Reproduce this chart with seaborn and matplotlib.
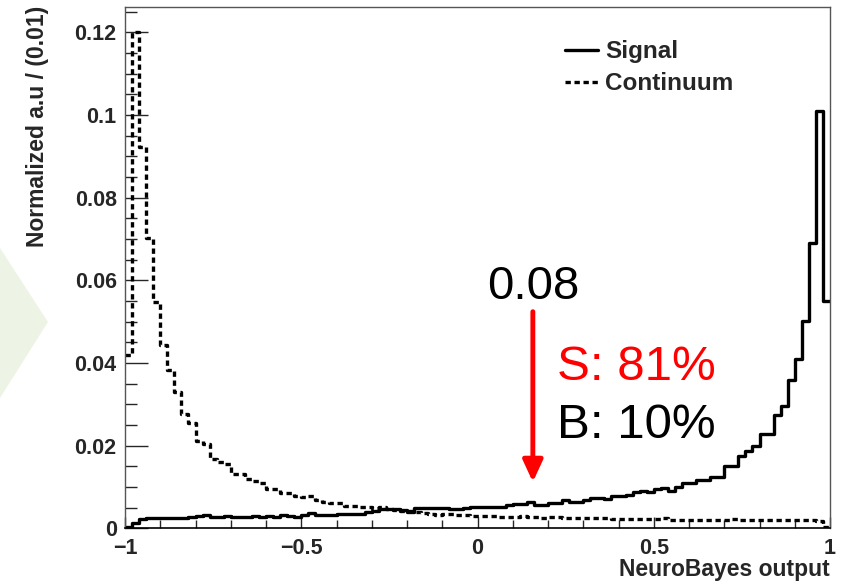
import numpy as np
import pandas as pd
import matplotlib
matplotlib.use("Agg")
import matplotlib.pyplot as plt
import seaborn as sns
from matplotlib.patches import Polygon
from matplotlib.lines import Line2D
from matplotlib.ticker import MultipleLocator

# ---------------- data (100 bins, -1 .. 1) ----------------
bin_edges = list(np.linspace(-1.0, 1.0, 101))

signal = [
    0.0004, 0.0012, 0.0023, 0.0026, 0.0024, 0.0025, 0.0025, 0.0025, 0.0026, 0.0028,
    0.0030, 0.0031, 0.0028, 0.0028, 0.0029, 0.0028, 0.0028, 0.0028, 0.0029, 0.0028,
    0.0030, 0.0028, 0.0032, 0.0029, 0.0028, 0.0032, 0.0036, 0.0032, 0.0032, 0.0032,
    0.0035, 0.0035, 0.0034, 0.0034, 0.0040, 0.0042, 0.0046, 0.0046, 0.0046, 0.0044,
    0.0040, 0.0048, 0.0048, 0.0050, 0.0050, 0.0050, 0.0047, 0.0047, 0.0050, 0.0051,
    0.0051, 0.0052, 0.0051, 0.0051, 0.0056, 0.0058, 0.0058, 0.0063, 0.0056, 0.0056,
    0.0060, 0.0060, 0.0068, 0.0063, 0.0063, 0.0068, 0.0073, 0.0073, 0.0071, 0.0079,
    0.0079, 0.0080, 0.0087, 0.0091, 0.0089, 0.0094, 0.0097, 0.0091, 0.0101, 0.0109,
    0.0109, 0.0117, 0.0117, 0.0125, 0.0125, 0.0151, 0.0151, 0.0176, 0.0187, 0.0200,
    0.0227, 0.0227, 0.0274, 0.0297, 0.0359, 0.0410, 0.0502, 0.0690, 0.1010, 0.0550,
]

continuum = [
    0.0420, 0.1200, 0.0923, 0.0702, 0.0547, 0.0444, 0.0382, 0.0330, 0.0277, 0.0255,
    0.0210, 0.0205, 0.0167, 0.0160, 0.0155, 0.0132, 0.0132, 0.0119, 0.0114, 0.0110,
    0.0096, 0.0096, 0.0086, 0.0086, 0.0078, 0.0076, 0.0079, 0.0068, 0.0064, 0.0060,
    0.0062, 0.0055, 0.0055, 0.0051, 0.0051, 0.0050, 0.0052, 0.0047, 0.0045, 0.0043,
    0.0042, 0.0040, 0.0036, 0.0034, 0.0033, 0.0035, 0.0034, 0.0033, 0.0031, 0.0030,
    0.0030, 0.0030, 0.0029, 0.0028, 0.0028, 0.0028, 0.0029, 0.0028, 0.0027, 0.0026,
    0.0027, 0.0027, 0.0025, 0.0024, 0.0025, 0.0025, 0.0025, 0.0025, 0.0026, 0.0023,
    0.0023, 0.0022, 0.0023, 0.0023, 0.0023, 0.0022, 0.0025, 0.0021, 0.0021, 0.0020,
    0.0021, 0.0020, 0.0021, 0.0020, 0.0020, 0.0021, 0.0022, 0.0020, 0.0020, 0.0021,
    0.0020, 0.0020, 0.0020, 0.0019, 0.0020, 0.0021, 0.0020, 0.0019, 0.0018, 0.0003,
]

series_names = ["Signal", "Continuum"]
xtick_values = [-1, -0.5, 0, 0.5, 1]
xtick_labels = ["\u22121", "\u22120.5", "0", "0.5", "1"]
ytick_values = [0, 0.02, 0.04, 0.06, 0.08, 0.1, 0.12]
ytick_labels = ["0", "0.02", "0.04", "0.06", "0.08", "0.1", "0.12"]
cut_value = 0.157
cut_label = "0.08"
sig_eff_label = "S: 81%"
bkg_eff_label = "B: 10%"

# ---------------- style ----------------
sns.set_style("ticks")
plt.rcParams["font.family"] = ["Liberation Sans", "DejaVu Sans"]

W, H = 841, 581
fig = plt.figure(figsize=(W / 100, H / 100), dpi=100)
fig.patch.set_facecolor("white")

# decorative slide triangle on the left
fig.patches.append(Polygon([(0, 1 - 248 / H), (48 / W, 1 - 322 / H), (0, 1 - 398 / H)],
                           closed=True, transform=fig.transFigure,
                           facecolor="#edf4e6", edgecolor="none", zorder=0))

ax_left, ax_right, ax_top, ax_bot = 125, 830, 7, 528.3
ax = fig.add_axes([ax_left / W, (H - ax_bot) / H, (ax_right - ax_left) / W, (ax_bot - ax_top) / H])
ax.set_facecolor("white")

centers = [(a + b) / 2 for a, b in zip(bin_edges[:-1], bin_edges[1:])]
df_sig = pd.DataFrame({"x": centers, "w": signal})
df_bkg = pd.DataFrame({"x": centers, "w": continuum})

dash = (0, (1.6, 1.1))
sns.histplot(data=df_sig, x="x", weights="w", bins=bin_edges,
             element="step", fill=False, color="black", linewidth=2.4, ax=ax)
sns.histplot(data=df_bkg, x="x", weights="w", bins=bin_edges,
             element="step", fill=False, color="black", linewidth=2.4, linestyle=dash, ax=ax)

ax.set_xlim(-1, 1)
ax.set_ylim(0, 0.1261)

ax.set_xticks(xtick_values)
ax.set_xticklabels(xtick_labels)
ax.set_yticks(ytick_values)
ax.set_yticklabels(ytick_labels)
ax.xaxis.set_minor_locator(MultipleLocator(0.1))
ax.yaxis.set_minor_locator(MultipleLocator(0.005))

ax.tick_params(axis="y", which="major", direction="in", length=16.5, width=1.0, pad=6,
               labelsize=15.5, left=True, right=False)
ax.tick_params(axis="y", which="minor", direction="in", length=8.6, width=1.0, left=True, right=False)
ax.tick_params(axis="x", which="major", direction="in", length=8, width=1.0, pad=7,
               labelsize=15.5, bottom=True, top=False)
ax.tick_params(axis="x", which="minor", direction="in", length=5.5, width=1.0, bottom=True, top=False)
for lab in ax.get_xticklabels() + ax.get_yticklabels():
    lab.set_fontweight("bold")

for side in ["left", "top", "right"]:
    ax.spines[side].set_visible(True)
    ax.spines[side].set_color("#555555")
    ax.spines[side].set_linewidth(1.0)
ax.spines["bottom"].set_color("black")
ax.spines["bottom"].set_linewidth(1.2)

ax.set_ylabel("Normalized a.u / (0.01)", fontsize=16.5, fontweight="bold", loc="top")
ax.yaxis.set_label_coords((49 - ax_left) / (ax_right - ax_left), 1.003)
ax.set_xlabel("NeuroBayes output", fontsize=16.5, fontweight="bold", loc="right")
ax.xaxis.set_label_coords(1.0, -0.057)

handles = [Line2D([], [], color="black", lw=2.4),
           Line2D([], [], color="black", lw=2.4, linestyle=dash)]
leg = ax.legend(handles, series_names, loc="upper left", bbox_to_anchor=(0.624, 0.936),
                frameon=False, borderaxespad=0, borderpad=0, handlelength=1.36,
                handletextpad=0.29, labelspacing=0.37,
                prop={"weight": "bold", "size": 17.5, "family": ["Liberation Sans"]})

ax.annotate("", xy=(cut_value, 0.0112), xytext=(cut_value, 0.0524),
            arrowprops=dict(arrowstyle="-|>,head_length=1.3,head_width=0.6", color="red",
                            lw=3.5, mutation_scale=10, shrinkA=0, shrinkB=0))
ax.text(cut_value, 0.0555, cut_label, ha="center", va="baseline", fontsize=34, color="black")
ax.text(0.2255, 0.0359, sig_eff_label, ha="left", va="baseline", fontsize=35.5, color="red")
ax.text(0.2255, 0.0218, bkg_eff_label, ha="left", va="baseline", fontsize=35.5, color="black")

fig.savefig("out.png", dpi=100)
